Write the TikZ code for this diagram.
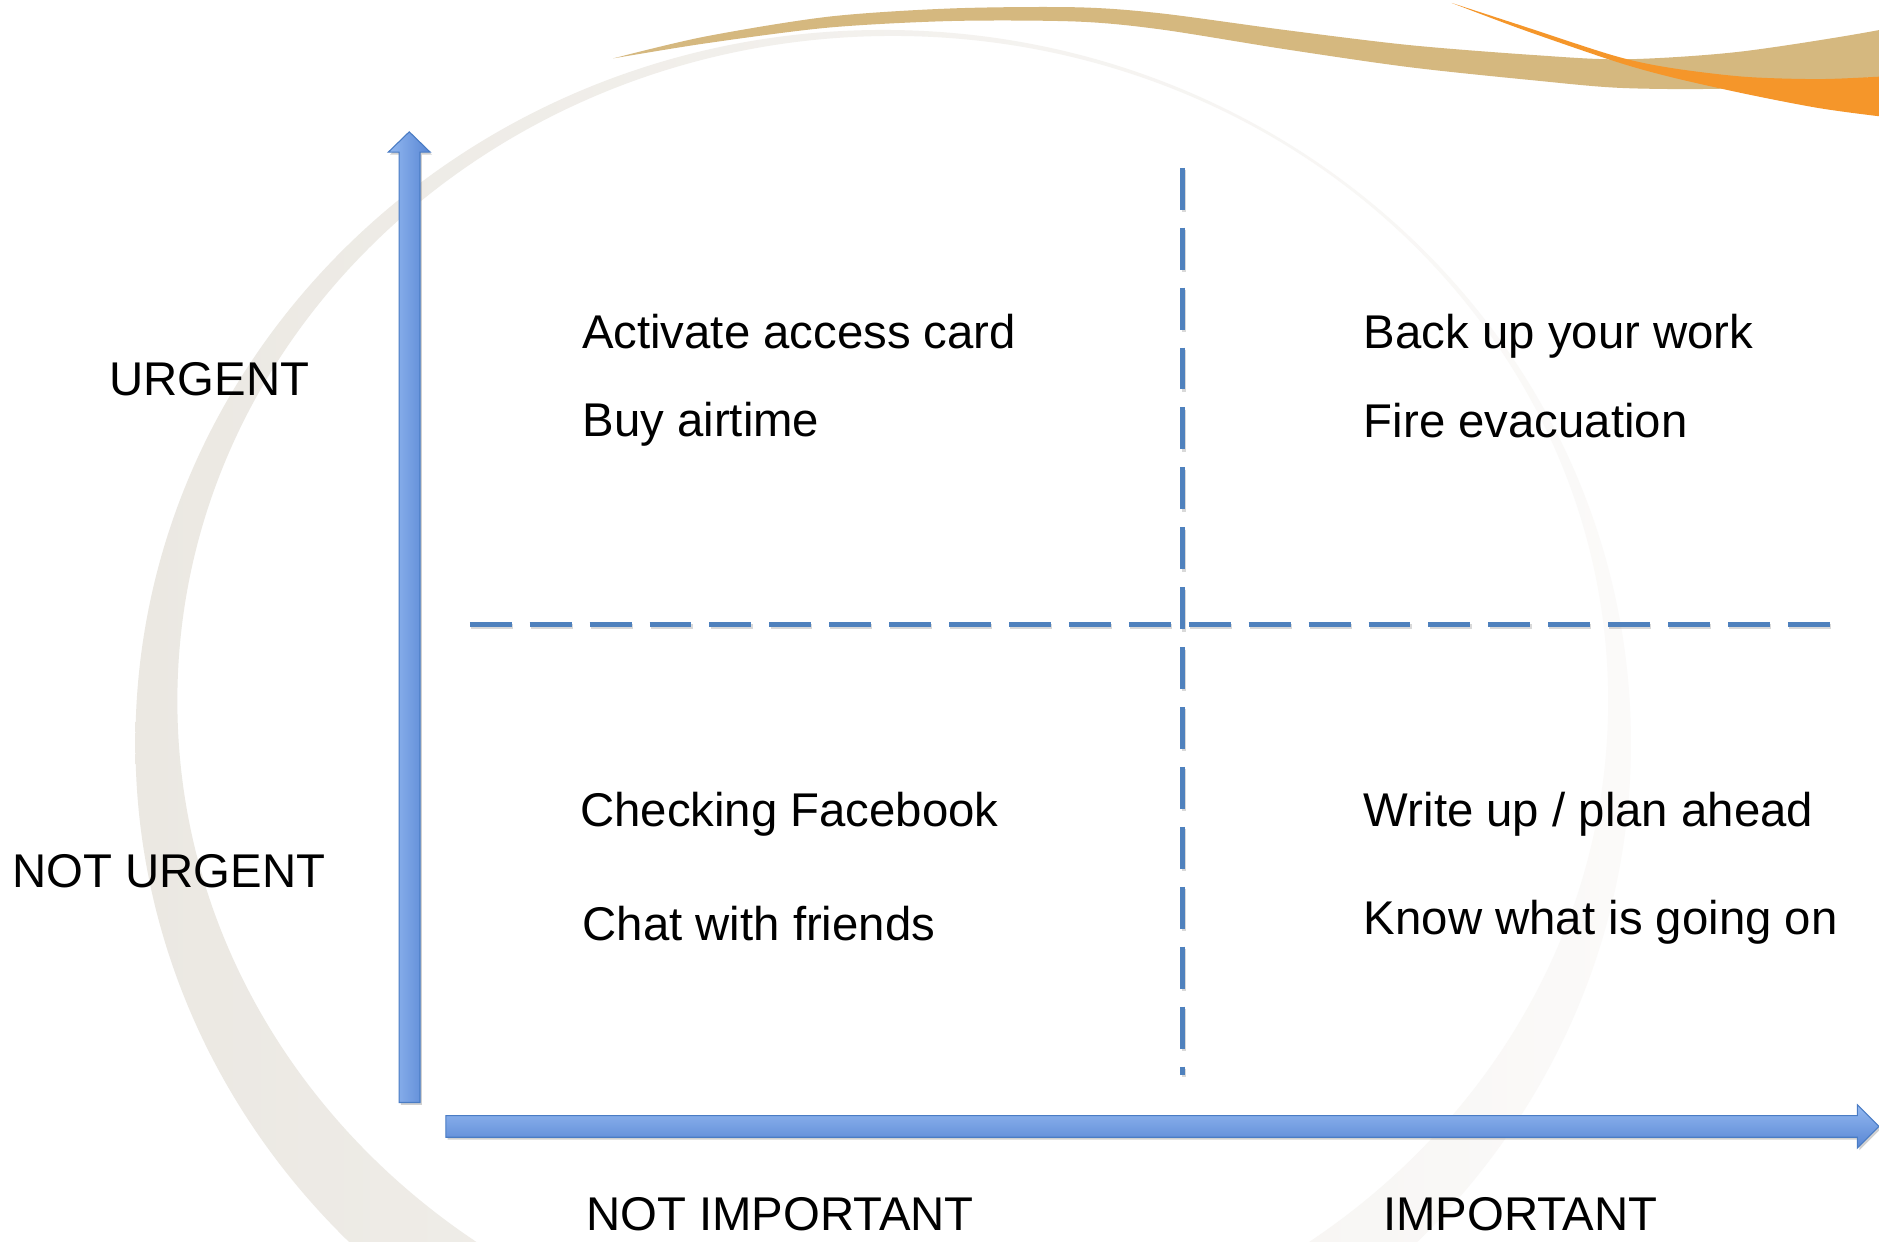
\documentclass[tikz,border=0pt]{standalone}
\usepackage{fontspec}
\setmainfont{Liberation Sans}
\usetikzlibrary{shadows}
\definecolor{tanband}{HTML}{D5B87F}
\definecolor{orangeband}{HTML}{F5962A}
\definecolor{ringL}{HTML}{EBE8E2}
\definecolor{ringM}{HTML}{F2F0EC}
\definecolor{ringR}{HTML}{FBFAF9}
\definecolor{blueL}{HTML}{93B8F0}
\definecolor{blueD}{HTML}{5886D4}
\definecolor{blueE}{HTML}{4A7CC4}
\definecolor{dashblue}{HTML}{4F81BD}
\begin{document}
\begin{tikzpicture}[x=1pt,y=-1pt,
  lbl/.style={anchor=base west, inner sep=0pt, font=\fontsize{39.5}{47}\selectfont},
  axlbl/.style={lbl, text depth=0pt},
  axisbox/.style={draw=blueE, line width=0.9pt, drop shadow={shadow xshift=1.5pt, shadow yshift=-2pt, opacity=0.3, fill=black!60}},
  divider/.style={dashblue, line width=4pt, dash pattern=on 35pt off 15pt},
  divshadow/.style={black, opacity=0.15, line width=4pt, dash pattern=on 35pt off 15pt}]

\useasboundingbox (0,0) rectangle (1568,1036);
\fill[white] (0,0) rectangle (1568,1036);

\begin{scope}
\clip (0,0) rectangle (1568,1036);
% background ring
\shade[left color=ringL, middle color=ringM, right color=ringR, even odd rule]
  (737,620) ellipse [x radius=624pt, y radius=595pt]
  (745,585) ellipse [x radius=597pt, y radius=555pt];
% tan swoosh
\fill[tanband] plot[smooth, tension=0.5] coordinates {(511.8,48.7) (587.9,30.6) (691.6,13.9) (795.3,7.0) (899.1,6.1) (968.3,11.1) (1072,25) (1175.7,37.6) (1279.5,45.9) (1355.5,49.5) (1452.3,43.1) (1568.4,25) (1600,14)}
  -- plot[smooth, tension=0.5] coordinates {(1600,62) (1568.4,64) (1452.3,73.5) (1355.5,73.5) (1279.5,67) (1175.7,56) (1072,41) (968.3,24.5) (899.1,18) (795.3,17.5) (691.6,23) (590,36) (511.8,48.7)} -- cycle;
% orange swoosh
\fill[orangeband] plot[smooth, tension=0.5] coordinates {(1211.5,2.5) (1270,21.5) (1347,46.5) (1393,56.5) (1455,64) (1516.7,66) (1568,64) (1600,62)}
  -- plot[smooth, tension=0.5] coordinates {(1600,100) (1568,97) (1516.7,90) (1455,78) (1393,64) (1347,51) (1270,24.5) (1211.5,2.5)} -- cycle;
\end{scope}

% quadrant dividers
\coordinate (vtop) at (987,140);
\coordinate (vbot) at (987,897);
\coordinate (hl) at (392,521);
\coordinate (hr) at (1527,521);
\draw[divshadow] ([shift={(1,2)}]hl) -- ([shift={(1,2)}]hr);
\draw[divshadow] ([shift={(1,2)}]vtop) -- ([shift={(1,2)}]vbot);
\draw[divider] (hl) -- (hr);
\draw[divider] (vtop) -- (vbot);

% axes
\shade[axisbox, left color=blueL, right color=blueD]
  (333,920) -- (333,127) -- (324,127) -- (341.5,110) -- (359,127) -- (350.5,127) -- (350.5,920) -- cycle;
\shade[axisbox, top color=blueL, bottom color=blueD]
  (372,931) -- (1550,931) -- (1550,922) -- (1568,940) -- (1550,958) -- (1550,949) -- (372,949) -- cycle;

% labels
\node[lbl] (urg) at (91,330) {URGENT};
\node[lbl] (nurg) at (10,741) {NOT URGENT};
\node[lbl] (q1a) at (485.5,291) {Activate access card};
\node[lbl] (q1b) at (486,364) {Buy airtime};
\node[lbl] (q2a) at (1138,291) {Back up your work};
\node[lbl] (q2b) at (1138,365) {Fire evacuation};
\node[lbl] (q3a) at (484,690) {Checking Facebook};
\node[lbl] (q3b) at (486,785) {Chat with friends};
\node[lbl] (q4a) at (1138,690) {Write up / plan ahead};
\node[lbl] (q4b) at (1138,780) {Know what is going on};
\node[axlbl] (ximp) at (489,1027) {NOT IMPORTANT};
\node[axlbl] (imp) at (1154,1027) {IMPORTANT};
\end{tikzpicture}
\end{document}
